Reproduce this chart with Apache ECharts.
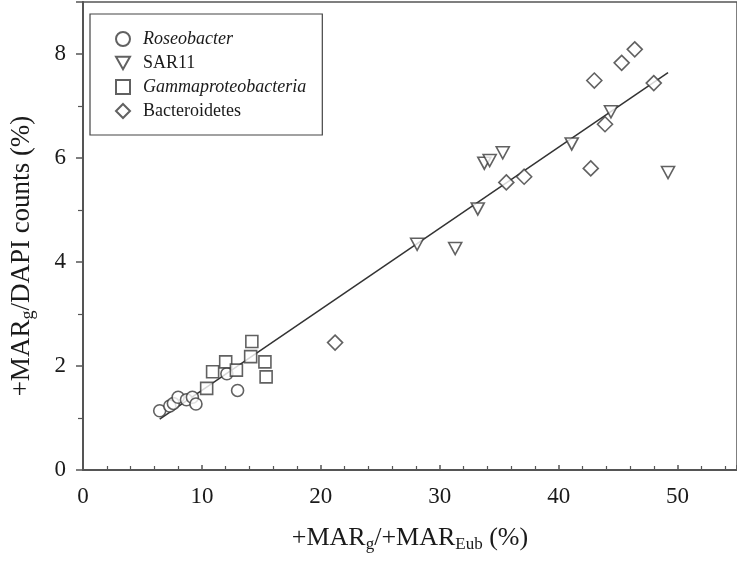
<!DOCTYPE html>
<html>
<head>
<meta charset="utf-8">
<script src="https://cdn.jsdelivr.net/npm/echarts@6/dist/echarts.min.js"></script>
<style>
  html, body { margin: 0; padding: 0; background: #fff; }
  #chart { width: 737px; height: 562px; }
</style>
</head>
<body>
<div id="chart"></div>
<script>
// data: [+MARg/+MAREub %, +MARg/DAPI %]
var roseobacter = [
    [6.45, 1.14], [7.3, 1.23], [7.6, 1.28], [8.0, 1.40], [8.7, 1.35],
    [9.2, 1.40], [9.5, 1.27], [12.1, 1.85], [13.0, 1.53]
];
var sar11 = [
    [28.1, 4.34], [31.3, 4.26], [33.2, 5.02], [33.75, 5.90], [34.2, 5.95],
    [35.3, 6.10], [41.1, 6.27], [44.4, 6.89], [49.2, 5.72]
];
var gamma = [
    [10.4, 1.57], [10.9, 1.89], [12.0, 2.08], [12.9, 1.92], [14.2, 2.47],
    [14.1, 2.18], [15.3, 2.08], [15.4, 1.79]
];
var bacteroidetes = [
    [21.2, 2.45], [35.6, 5.53], [37.1, 5.64], [42.7, 5.80], [43.0, 7.49],
    [43.9, 6.65], [45.3, 7.83], [46.4, 8.09], [48.0, 7.44]
];
// regression line end points
var fitLine = [[6.45, 0.98], [49.2, 7.64]];

var serif = '"Liberation Serif", "DejaVu Serif", serif';
var textCol = '#1a1a1a';
var markStyle = { color: '#fff', borderColor: '#3a3a3a', borderWidth: 1.6 };
var downTri = 'path://M0,0 L10,0 L5,9 Z';

let myChart = echarts.init(document.getElementById('chart'));

let option = {
    animation: false,
    backgroundColor: '#fff',
    grid: {
        left: 83, right: 0, top: 2, bottom: 92,
        show: true, borderColor: '#555', borderWidth: 1.5
    },
    legend: {
        left: 90, top: 14,
        orient: 'vertical',
        padding: [16, 16, 15, 25],
        itemGap: 6,
        itemWidth: 14, itemHeight: 14,
        borderColor: '#444', borderWidth: 1.2,
        data: ['Roseobacter', 'SAR11', 'Gammaproteobacteria', 'Bacteroidetes'],
        formatter: function (name) {
            if (name === 'Roseobacter' || name === 'Gammaproteobacteria') {
                return '{i|' + name + '}';
            }
            return name;
        },
        textStyle: {
            fontFamily: serif, fontSize: 18, color: textCol, padding: [0, 0, 0, 8],
            rich: { i: { fontFamily: serif, fontSize: 18, fontStyle: 'italic', color: textCol } }
        }
    },
    xAxis: {
        type: 'value',
        min: 0, max: 55, interval: 10,
        name: '{a|+MAR}{s|g}{a|/+MAR}{s|Eub}{a| (%)}',
        nameLocation: 'middle',
        nameGap: 54,
        nameTextStyle: {
            rich: {
                a: { fontFamily: serif, fontSize: 26, color: textCol },
                s: { fontFamily: serif, fontSize: 17, color: textCol, verticalAlign: 'bottom', padding: [12, 0, 0, 0] }
            }
        },
        axisLine: { lineStyle: { color: '#555', width: 2 } },
        axisTick: { inside: true, length: 5, lineStyle: { color: '#555', width: 1.5 } },
        minorTick: { show: true, splitNumber: 5, length: 4, lineStyle: { color: '#555', width: 1.2 } },
        axisLabel: { fontFamily: serif, fontSize: 23, color: textCol, margin: 15, showMaxLabel: false },
        splitLine: { show: false }
    },
    yAxis: {
        type: 'value',
        min: 0, max: 9, interval: 2,
        name: '{a|+MAR}{s|g}{a|/DAPI counts (%)}',
        nameLocation: 'middle',
        nameGap: 46,
        nameTextStyle: {
            padding: [0, 40, 0, 0],
            rich: {
                a: { fontFamily: serif, fontSize: 27, color: textCol },
                s: { fontFamily: serif, fontSize: 18, color: textCol, verticalAlign: 'bottom', padding: [12, 0, 0, 0] }
            }
        },
        axisLine: { lineStyle: { color: '#555', width: 2 } },
        axisTick: { inside: false, length: 7, lineStyle: { color: '#555', width: 1.5 } },
        minorTick: { show: true, splitNumber: 2, length: 5, lineStyle: { color: '#555', width: 1.2 } },
        axisLabel: { fontFamily: serif, fontSize: 23, color: textCol, margin: 17, showMaxLabel: false },
        splitLine: { show: false }
    },
    series: [
        {
            name: 'fit', type: 'line', data: fitLine, symbol: 'none',
            lineStyle: { color: '#333', width: 1.5 }, z: 1, silent: true
        },
        {
            name: 'Roseobacter', type: 'scatter', data: roseobacter,
            symbol: 'circle', symbolSize: 12, itemStyle: markStyle, z: 3
        },
        {
            name: 'SAR11', type: 'scatter', data: sar11,
            symbol: downTri, symbolSize: [13, 12], itemStyle: markStyle, z: 3
        },
        {
            name: 'Gammaproteobacteria', type: 'scatter', data: gamma,
            symbol: 'rect', symbolSize: 12, itemStyle: markStyle, z: 3
        },
        {
            name: 'Bacteroidetes', type: 'scatter', data: bacteroidetes,
            symbol: 'diamond', symbolSize: 15, itemStyle: markStyle, z: 3
        }
    ]
};
myChart.setOption(option);
</script>
</body>
</html>
